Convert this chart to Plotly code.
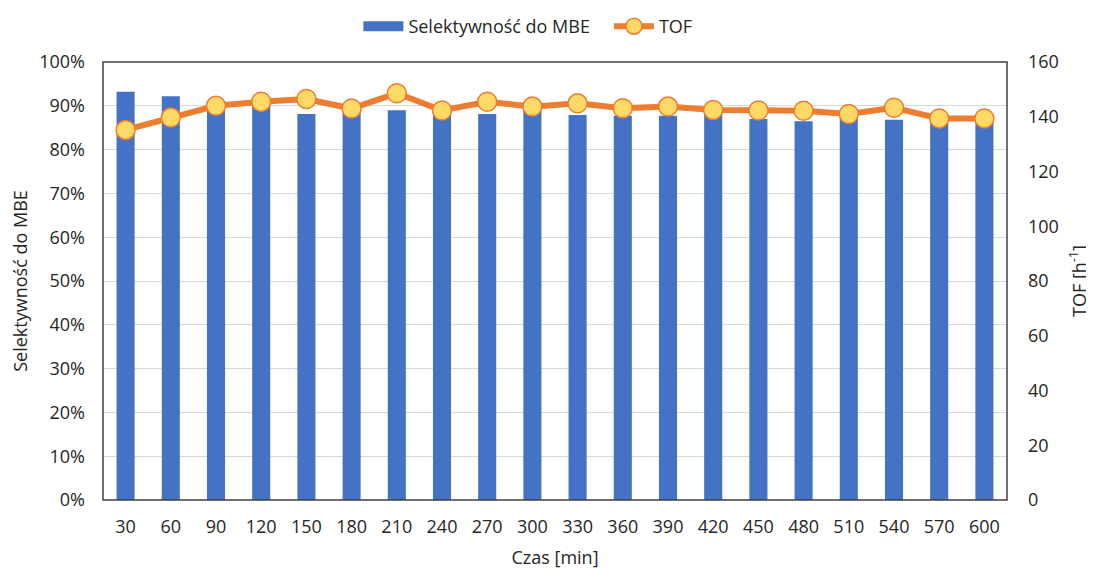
import plotly.graph_objects as go

czas = [30, 60, 90, 120, 150, 180, 210, 240, 270, 300, 330, 360, 390, 420, 450, 480, 510, 540, 570, 600]
selektywnosc = [93.2, 92.2, 89.5, 90.5, 88.1, 89.0, 89.0, 89.5, 88.1, 89.5, 87.9, 87.7, 87.7, 88.0, 87.0, 86.5, 87.5, 86.8, 87.0, 87.0]
tof = [135.2, 139.7, 144.0, 145.5, 146.5, 143.0, 148.6, 142.3, 145.5, 143.7, 144.9, 143.1, 143.7, 142.5, 142.3, 142.2, 141.0, 143.3, 139.4, 139.4]

cats = [str(c) for c in czas]
font_family = "Open Sans, sans-serif"
FS = 18
BLUE = "#4472C4"
ORANGE = "#ED7D31"
W, H = 1086, 561

fig = go.Figure()
fig.add_trace(go.Bar(
    x=cats, y=[v / 100 for v in selektywnosc], name="Selektywność do MBE",
    marker=dict(color=BLUE, line=dict(width=0)), yaxis="y", showlegend=False,
))
# legend-only entry to mimic the wide rectangular legend key
fig.add_trace(go.Scatter(
    x=[None], y=[None], name="Selektywność do MBE   ", mode="lines",
    line=dict(color=BLUE, width=14), yaxis="y", showlegend=True,
))
fig.add_trace(go.Scatter(
    x=cats, y=tof, name="TOF", yaxis="y2", mode="lines+markers",
    line=dict(color=ORANGE, width=6),
    marker=dict(size=19, color="#FFD966", line=dict(color=ORANGE, width=1.5)),
))

fig.update_layout(
    width=W, height=H,
    margin=dict(l=95, r=87, t=54, b=69),
    paper_bgcolor="white", plot_bgcolor="white",
    font=dict(family=font_family, size=FS, color="#262626"),
    bargap=0.6,
    showlegend=True,
    legend=dict(orientation="h", x=0.47, xanchor="center", y=1.0, yanchor="top",
                yref="container", font=dict(size=FS), traceorder="normal",
                itemwidth=40),
    xaxis=dict(type="category", categoryorder="array", categoryarray=cats,
               range=[-0.5, len(cats) - 0.5], autorange=False,
               showgrid=False, ticks="", automargin=False,
               ticklabelstandoff=14,
               title=dict(text="Czas [min]", font=dict(size=FS))),
    yaxis=dict(range=[0, 1], tickformat=".0%", dtick=0.1, showgrid=True,
               gridcolor="#D9D9D9", gridwidth=1, zeroline=False, ticks="",
               automargin=False, ticklabelstandoff=17,
               title=dict(text="Selektywność do MBE", font=dict(size=FS))),
    yaxis2=dict(range=[0, 160], dtick=20, overlaying="y", side="right", showgrid=False,
                zeroline=False, ticks="", automargin=False, ticklabelstandoff=20,
                title=dict(text="TOF [h<sup>-1</sup>]", font=dict(size=FS))),
    shapes=[dict(type="rect", xref="paper", yref="paper", x0=0, x1=1, y0=0, y1=1,
                 line=dict(color="#404040", width=1.5), fillcolor="rgba(0,0,0,0)", layer="above")],
)

fig.write_html("out.html")
